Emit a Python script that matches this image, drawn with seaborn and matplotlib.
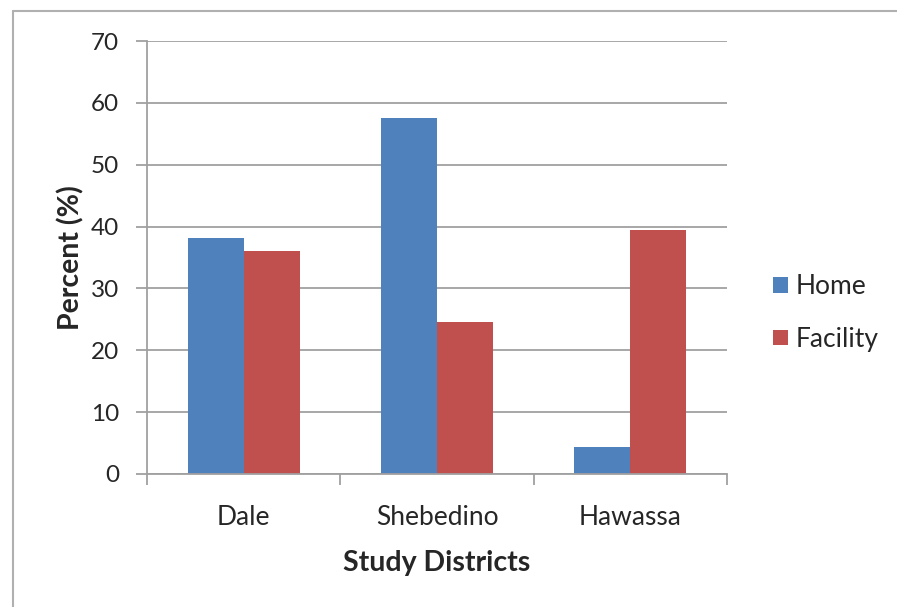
import matplotlib
matplotlib.use("Agg")
import matplotlib.pyplot as plt
import seaborn as sns
import pandas as pd
from matplotlib.lines import Line2D

districts = ["Dale", "Shebedino", "Hawassa"]
home = [38.1, 57.5, 4.4]
facility = [36.1, 24.5, 39.4]
series_names = ["Home", "Facility"]
y_ticks = [0, 10, 20, 30, 40, 50, 60, 70]

df = pd.DataFrame({
    "District": districts * 2,
    "Place": [series_names[0]] * 3 + [series_names[1]] * 3,
    "Percent": home + facility,
})

sns.set_style("white")
plt.rcParams["font.family"] = ["Lato", "DejaVu Sans"]

W, H = 897, 607
fig = plt.figure(figsize=(W / 100, H / 100), dpi=100)
ax = fig.add_axes([147 / W, 1 - 474 / H, (727 - 147) / W, (474 - 41) / H])

sns.barplot(data=df, x="District", y="Percent", hue="Place",
            palette=["#4F81BD", "#C0504D"], width=0.58, gap=0,
            saturation=1, ax=ax, legend=True, linewidth=0)

ax.set_ylim(0, 70)
ax.set_xlim(-0.5, 2.5)
ax.set_yticks(y_ticks)
ax.set_yticklabels([str(t) for t in y_ticks], fontsize=17.5)
ax.yaxis.grid(True, color="#A0A0A0", linewidth=1.3)
ax.set_axisbelow(True)
for s in ["top", "right"]:
    ax.spines[s].set_visible(False)
for s in ["left", "bottom"]:
    ax.spines[s].set_color("#A0A0A0")
    ax.spines[s].set_linewidth(1.3)

# x ticks at category boundaries, labels at centres
ax.set_xticks([-0.5, 0.5, 1.5, 2.5])
ax.set_xticklabels([])
ax.set_xticks([0, 1, 2], minor=True)
ax.set_xticklabels(districts, minor=True, fontsize=19)
ax.tick_params(axis="x", which="major", direction="out", length=8,
               color="#A0A0A0", width=1.3, bottom=True)
ax.tick_params(axis="x", which="minor", length=0, pad=22)
ax.tick_params(axis="y", direction="out", length=8, color="#A0A0A0",
               width=1.3, left=True, pad=12)

ax.set_xlabel("Study Districts", fontsize=20.5, fontweight="bold", labelpad=15)
ax.set_ylabel("Percent (%)", fontsize=20.5, fontweight="bold", labelpad=5)

handles, labels = ax.get_legend_handles_labels()
ax.get_legend().remove()
fig.legend(handles, labels, loc="center left",
           bbox_to_anchor=(773 / W, 1 - 313 / H),
           frameon=False, fontsize=19, handlelength=0.55, handleheight=0.55,
           handletextpad=0.3, labelspacing=1.05, borderpad=0, borderaxespad=0)

# outer chart frame
fig.add_artist(Line2D([13 / W, 13 / W], [0, 1 - 11 / H], color="#B0B0B0",
                      linewidth=1.5, transform=fig.transFigure))
fig.add_artist(Line2D([13 / W, 1], [1 - 11 / H, 1 - 11 / H], color="#B0B0B0",
                      linewidth=1.5, transform=fig.transFigure))

fig.savefig("out.png", dpi=100, facecolor="white")
